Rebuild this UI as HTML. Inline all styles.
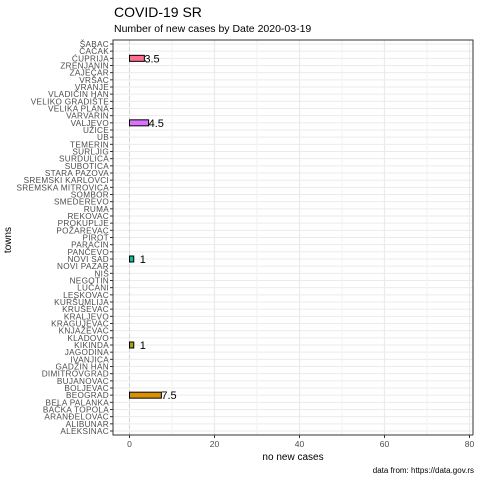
<!DOCTYPE html>
<html><head><meta charset="utf-8"><style>
body{margin:0;background:#fff}
svg text{font-family:"Liberation Sans","DejaVu Sans",sans-serif}
</style></head><body>
<svg id="chart" width="480" height="480" xmlns="http://www.w3.org/2000/svg">
<text x="114" y="17" font-size="14" fill="#000">COVID-19 SR</text>
<text x="114" y="32" font-size="10.5" fill="#000">Number of new cases by Date 2020-03-19</text>
<g id="plot"></g>
<text x="293" y="460" font-size="10" text-anchor="middle" fill="#000">no new cases</text>
<text transform="translate(11,240) rotate(-90)" font-size="10" text-anchor="middle" fill="#000">towns</text>
<text x="474" y="473" font-size="8" text-anchor="end" fill="#000">data from: https://data.gov.rs</text>
</svg>
<script>
const towns=["ŠABAC","ČAČAK","ĆUPRIJA","ZRENJANIN","ZAJEČAR","VRŠAC","VRANJE","VLADIČIN HAN","VELIKO GRADIŠTE","VELIKA PLANA","VARVARIN","VALJEVO","UŽICE","UB","TEMERIN","SURLJIG","SURDULICA","SUBOTICA","STARA PAZOVA","SREMSKI KARLOVCI","SREMSKA MITROVICA","SOMBOR","SMEDEREVO","RUMA","REKOVAC","PROKUPLJE","POŽAREVAC","PIROT","PARAĆIN","PANČEVO","NOVI SAD","NOVI PAZAR","NIŠ","NEGOTIN","LUČANI","LESKOVAC","KURŠUMLIJA","KRUŠEVAC","KRALJEVO","KRAGUJEVAC","KNJAŽEVAC","KLADOVO","KIKINDA","JAGODINA","IVANJICA","GADŽIN HAN","DIMITROVGRAD","BUJANOVAC","BOLJEVAC","BEOGRAD","BELA PALANKA","BAČKA TOPOLA","ARANĐELOVAC","ALIBUNAR","ALEKSINAC"];
const barTowns=["ĆUPRIJA","VALJEVO","NOVI SAD","KIKINDA","BEOGRAD"];
const barValues=[3.5,4.5,1,1,7.5];
const barColors=["#FF6C91","#DC71FA","#00C1A3","#A3A500","#D89000"];
const xTicks=[0,20,40,60,80];
const xMinor=[10,30,50,70];
const NS="http://www.w3.org/2000/svg";
const L=113,R=473,T=40,B=435;
const x=v=>129.5+v*4.25;
const y=i=>44+i*(431-44)/(towns.length-1);
const g=document.getElementById('plot');
function mk(t,a,p){const e=document.createElementNS(NS,t);for(const k in a)e.setAttribute(k,a[k]);(p||g).appendChild(e);return e;}
towns.forEach((t,i)=>{const l=mk('line',{x1:L,x2:R,y1:y(i),y2:y(i),stroke:'#ebebeb','stroke-width':1});

});
xMinor.forEach(v=>{const l=mk('line',{x1:x(v),x2:x(v),y1:T,y2:B,stroke:'#f2f2f2','stroke-width':1});

});
xTicks.forEach(v=>{const l=mk('line',{x1:x(v),x2:x(v),y1:T,y2:B,stroke:'#ebebeb','stroke-width':1.2});

});
const z=mk('line',{x1:x(0),x2:x(0),y1:T,y2:B,stroke:'#d6d6d6','stroke-width':1,'stroke-dasharray':'4,3'});


barTowns.forEach((t,k)=>{const i=towns.indexOf(t);const v=barValues[k];
const r=mk('rect',{x:x(0),y:y(i)-3,width:x(v)-x(0),height:6,fill:barColors[k],stroke:'#000','stroke-width':1});


const tx=mk('text',{x:x(v)+(v<2?6:0),y:y(i)+4,'font-size':11,fill:'#000'});tx.textContent=String(v);

});
const ax=mk('polyline',{points:`${R},${B} ${L},${B} ${L},${T} ${R},${T} ${R},${B}`,fill:'none',stroke:'#333','stroke-width':1});


towns.forEach((t,i)=>{mk('line',{x1:L-3,x2:L,y1:y(i),y2:y(i),stroke:'#333'});
const tx=mk('text',{x:L-4,y:y(i)+3,'font-size':8.2,'text-anchor':'end',fill:'#4d4d4d','letter-spacing':'0.3'});tx.textContent=t;

});
xTicks.forEach(v=>{mk('line',{x1:x(v),x2:x(v),y1:B,y2:B+3,stroke:'#333'});
const tx=mk('text',{x:x(v),y:B+12,'font-size':8.5,'text-anchor':'middle',fill:'#4d4d4d'});tx.textContent=v;

});
</script>
</body></html>
